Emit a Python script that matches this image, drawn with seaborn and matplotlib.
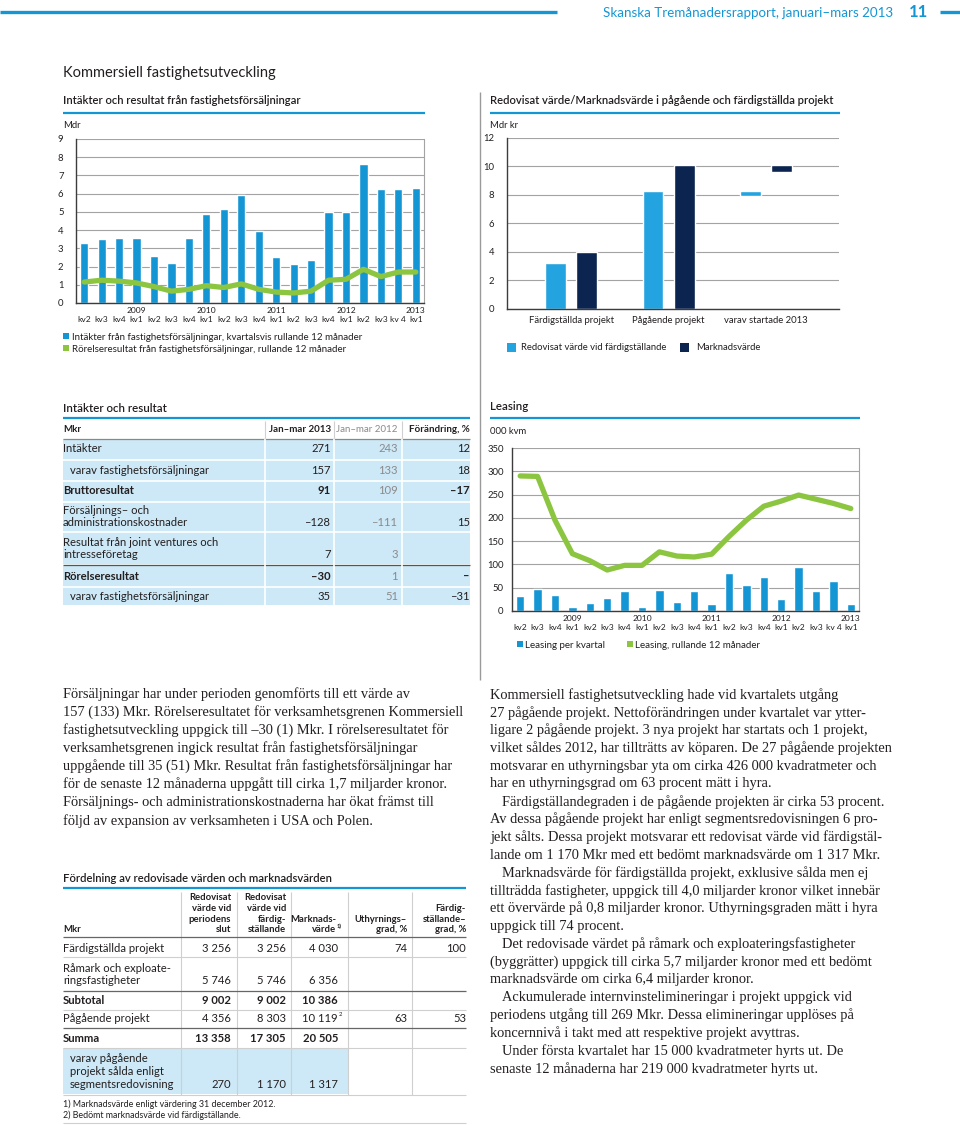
import numpy as np
import pandas as pd
import seaborn as sns
import matplotlib.pyplot as plt
from matplotlib.patches import Rectangle

################################################################################
# data

kvartal = ['kv2', 'kv3', 'kv4', 'kv1', 'kv2', 'kv3', 'kv4', 'kv1', 'kv2', 'kv3',
           'kv4', 'kv1', 'kv2', 'kv3', 'kv4', 'kv1', 'kv2', 'kv3', 'kv 4', 'kv1']
ar = ['', '', '', '2009', '', '', '', '2010', '', '', '', '2011', '', '', '', '2012', '', '', '', '2013']

# Intäkter och resultat från fastighetsförsäljningar, Mdr
intakter = [3.3, 3.5, 3.55, 3.55, 2.6, 2.2, 3.55, 4.9, 5.15, 5.9,
            3.95, 2.55, 2.15, 2.35, 5.0, 5.0, 7.65, 6.25, 6.25, 6.3]
rorelseresultat = [1.15, 1.25, 1.2, 1.1, 0.9, 0.65, 0.75, 0.95, 0.85, 1.05,
                   0.75, 0.6, 0.55, 0.65, 1.25, 1.3, 1.85, 1.45, 1.7, 1.7]

# Redovisat värde / Marknadsvärde, Mdr kr
projekt_kat = ['Färdigställda projekt', 'Pågående projekt', 'varav startade 2013']
redovisat = [3.256, 8.303]
marknadsvarde = [4.030, 10.119]
startade_redovisat = [7.95, 8.30]   # från, till
startade_marknad = [9.6, 10.1]

# Leasing, 000 kvm
leasing_kvartal = [33, 47, 34, 9, 18, 27, 44, 9, 46, 19,
                   42, 15, 81, 55, 73, 26, 95, 44, 65, 15]
leasing_rullande = [290, 289, 195, 123, 108, 88, 98, 98, 127, 118,
                    116, 122, 160, 195, 225, 236, 249, 240, 231, 220]

# Tabell: Intäkter och resultat
t1_rader = ['Intäkter', 'varav fastighetsförsäljningar', 'Bruttoresultat',
            'Försäljnings– och\nadministrationskostnader',
            'Resultat från joint ventures och\nintresseföretag',
            'Rörelseresultat', 'varav fastighetsförsäljningar']
t1_2013 = ['271', '157', '91', '–128', '7', '–30', '35']
t1_2012 = ['243', '133', '109', '–111', '3', '1', '51']
t1_forandring = ['12', '18', '–17', '15', '', '–', '–31']

# Tabell: Fördelning av redovisade värden och marknadsvärden
t2_rader = ['Färdigställda projekt', 'Råmark och exploate-\nringsfastigheter', 'Subtotal',
            'Pågående projekt', 'Summa', 'varav pågående\nprojekt sålda enligt\nsegmentsredovisning']
t2_redov_slut = ['3 256', '5 746', '9 002', '4 356', '13 358', '270']
t2_redov_fard = ['3 256', '5 746', '9 002', '8 303', '17 305', '1 170']
t2_marknad = ['4 030', '6 356', '10 386', '10 119', '20 505', '1 317']
t2_uthyrning = ['74', '', '', '63', '', '']
t2_fardig = ['100', '', '', '53', '', '']

text_vanster = [
    'Försäljningar har under perioden genomförts till ett värde av',
    '157 (133) Mkr. Rörelseresultatet för verksamhetsgrenen Kommersiell',
    'fastighetsutveckling uppgick till –30 (1) Mkr. I rörelseresultatet för',
    'verksamhetsgrenen ingick resultat från fastighetsförsäljningar',
    'uppgående till 35 (51) Mkr. Resultat från fastighetsförsäljningar har',
    'för de senaste 12 månaderna uppgått till cirka 1,7 miljarder kronor.',
    'Försäljnings- och administrationskostnaderna har ökat främst till',
    'följd av expansion av verksamheten i USA och Polen.',
]
text_hoger = [
    'Kommersiell fastighetsutveckling hade vid kvartalets utgång',
    '27 pågående projekt. Nettoförändringen under kvartalet var ytter-',
    'ligare 2 pågående projekt. 3 nya projekt har startats och 1 projekt,',
    'vilket såldes 2012, har tillträtts av köparen. De 27 pågående projekten',
    'motsvarar en uthyrningsbar yta om cirka 426 000 kvadratmeter och',
    'har en uthyrningsgrad om 63 procent mätt i hyra.',
    '>Färdigställandegraden i de pågående projekten är cirka 53 procent.',
    'Av dessa pågående projekt har enligt segmentsredovisningen 6 pro-',
    'jekt sålts. Dessa projekt motsvarar ett redovisat värde vid färdigstäl-',
    'lande om 1 170 Mkr med ett bedömt marknadsvärde om 1 317 Mkr.',
    '>Marknadsvärde för färdigställda projekt, exklusive sålda men ej',
    'tillträdda fastigheter, uppgick till 4,0 miljarder kronor vilket innebär',
    'ett övervärde på 0,8 miljarder kronor. Uthyrningsgraden mätt i hyra',
    'uppgick till 74 procent.',
    '>Det redovisade värdet på råmark och exploateringsfastigheter',
    '(byggrätter) uppgick till cirka 5,7 miljarder kronor med ett bedömt',
    'marknadsvärde om cirka 6,4 miljarder kronor.',
    '>Ackumulerade internvinstelimineringar i projekt uppgick vid',
    'periodens utgång till 269 Mkr. Dessa elimineringar upplöses på',
    'koncernnivå i takt med att respektive projekt avyttras.',
    '>Under första kvartalet har 15 000 kvadratmeter hyrts ut. De',
    'senaste 12 månaderna har 219 000 kvadratmeter hyrts ut.',
]

################################################################################
# style

W, H = 960, 1125
BLUE = '#1596d4'
LIGHTBLUE = '#23a3df'
NAVY = '#0b2450'
GREEN = '#8cc540'
TABLEBG = '#cde8f6'
GRID = '#a3a3a3'
TXT = '#231f20'
GRAYTXT = '#8a8a8a'
BODYSIZE = 10.4
TABSIZE = 8.1

sns.set_theme(style='white')
plt.rcParams['font.family'] = ['Lato', 'DejaVu Sans']
plt.rcParams['text.color'] = TXT
plt.rcParams['xtick.color'] = TXT
plt.rcParams['ytick.color'] = TXT

fig = plt.figure(figsize=(W/100, H/100), dpi=100)

# page axes in pixel coordinates, for all loose text and table graphics
page = fig.add_axes([0, 0, 1, 1])
page.set_xlim(0, W)
page.set_ylim(H, 0)
page.axis('off')


def px_axes(x0, y0, x1, y1):
    return fig.add_axes([x0/W, 1 - y1/H, (x1 - x0)/W, (y1 - y0)/H])


def t(x, y, s, size=7.5, ha='left', va='center', **kw):
    page.text(x, y, s, fontsize=size, ha=ha, va=va, **kw)


def hline(x0, x1, y, color, lw=0.8):
    page.plot([x0, x1], [y, y], color=color, lw=lw, solid_capstyle='butt')


def vline(x, y0, y1, color, lw=0.8):
    page.plot([x, x], [y0, y1], color=color, lw=lw, solid_capstyle='butt')


def style_axes(ax, right=True):
    ax.set_xlabel('')
    ax.set_ylabel('')
    ax.yaxis.grid(True, color=GRID, lw=0.8)
    ax.xaxis.grid(False)
    ax.set_axisbelow(True)
    ax.tick_params(length=0, pad=3, labelsize=6.8)
    for s in ['left', 'bottom']:
        ax.spines[s].set_color('#3c3c3c')
        ax.spines[s].set_linewidth(1.0)
    ax.spines['top'].set_visible(False)
    ax.spines['right'].set_visible(right)
    ax.spines['right'].set_color(GRID)
    ax.spines['right'].set_linewidth(0.8)
    ax.set_facecolor('none')


################################################################################
# header

hline(0, 557, 12, BLUE, lw=2.4)
t(893, 13, 'Skanska Tremånadersrapport, januari–mars 2013', size=9.6, ha='right', color=BLUE)
t(909, 12, '11', size=12, color=BLUE, weight='bold')
hline(940, 960, 12, BLUE, lw=2.4)

t(63, 73, 'Kommersiell fastighetsutveckling', size=10.5)
vline(480, 92, 680, '#9a9a9a', lw=1.0)

################################################################################
# chart 1: Intäkter och resultat från fastighetsförsäljningar

t(63, 101, 'Intäkter och resultat från fastighetsförsäljningar', size=8.1, weight='semibold')
hline(63, 425, 113, BLUE, lw=1.6)
t(63, 126, 'Mdr', size=6.8)

ax1 = px_axes(76, 139, 424, 303)
df1 = pd.DataFrame({'pos': range(len(kvartal)), 'intakter': intakter, 'rorelse': rorelseresultat})
sns.barplot(df1, x='pos', y='intakter', color=BLUE, saturation=1, width=0.47, ax=ax1)
sns.lineplot(df1, x='pos', y='rorelse', color=GREEN, lw=3.8, ax=ax1)
ax1.set_xlim(-0.47, len(kvartal) - 0.53)
ax1.set_ylim(0, 9)
ax1.set_yticks(range(10))
ax1.set_xticks(range(len(kvartal)))
ax1.set_xticklabels([f'{a}\n{k}' for a, k in zip(ar, kvartal)], linespacing=1.25)
style_axes(ax1)
ax1.tick_params(axis='y', pad=9)
ax1.tick_params(axis='x', labelsize=6.1)

page.add_patch(Rectangle((63, 333), 6, 6, color=BLUE, lw=0))
t(72, 337, 'Intäkter från fastighetsförsäljningar, kvartalsvis rullande 12 månader', size=7.0)
page.add_patch(Rectangle((63, 345), 6, 6, color=GREEN, lw=0))
t(72, 349, 'Rörelseresultat från fastighetsförsäljningar, rullande 12 månader', size=7.0)

################################################################################
# chart 2: Redovisat värde/Marknadsvärde

t(490, 101, 'Redovisat värde/Marknadsvärde i pågående och färdigställda projekt', size=8.1, weight='semibold')
hline(490, 840, 113, BLUE, lw=1.6)
t(490, 125, 'Mdr kr', size=6.8)

ax2 = px_axes(507, 138, 839, 309)
df2 = pd.DataFrame({
    'kategori': projekt_kat[:2] * 2,
    'serie': ['Redovisat värde vid färdigställande'] * 2 + ['Marknadsvärde'] * 2,
    'varde': redovisat + marknadsvarde,
})
sns.barplot(df2, x='kategori', y='varde', hue='serie', order=projekt_kat,
            palette=[LIGHTBLUE, NAVY], saturation=1, width=0.64, gap=0.33, legend=False, ax=ax2)
off = 0.64 / 4
bw = 0.32 * (1 - 0.33)
ax2.bar([2 - off, 2 + off],
        [startade_redovisat[1] - startade_redovisat[0], startade_marknad[1] - startade_marknad[0]],
        bottom=[startade_redovisat[0], startade_marknad[0]], width=bw, color=[LIGHTBLUE, NAVY])
ax2.set_xlim(-0.66, 2.75)
ax2.set_ylim(0, 12)
ax2.set_yticks(range(0, 13, 2))
style_axes(ax2, right=False)
ax2.tick_params(axis='y', pad=9)
ax2.tick_params(axis='x', pad=5)

page.add_patch(Rectangle((507, 343), 9, 9, color=LIGHTBLUE, lw=0))
t(521, 348, 'Redovisat värde vid färdigställande', size=6.8)
page.add_patch(Rectangle((680, 343), 9, 9, color=NAVY, lw=0))
t(696, 348, 'Marknadsvärde', size=6.8)

################################################################################
# chart 3: Leasing

t(490, 407, 'Leasing', size=8.3, weight='semibold')
hline(490, 860, 418, BLUE, lw=1.6)
t(490, 431, '000 kvm', size=6.8)

ax3 = px_axes(512, 448, 859, 611)
df3 = pd.DataFrame({'pos': range(len(kvartal)), 'kvartal': leasing_kvartal, 'rullande': leasing_rullande})
sns.barplot(df3, x='pos', y='kvartal', color=BLUE, saturation=1, width=0.48, ax=ax3)
sns.lineplot(df3, x='pos', y='rullande', color=GREEN, lw=3.8, ax=ax3)
ax3.set_xlim(-0.47, len(kvartal) - 0.53)
ax3.set_ylim(0, 350)
ax3.set_yticks(range(0, 351, 50))
ax3.set_xticks(range(len(kvartal)))
ax3.set_xticklabels([f'{a}\n{k}' for a, k in zip(ar, kvartal)], linespacing=1.25)
style_axes(ax3)
ax3.tick_params(axis='y', pad=6)
ax3.tick_params(axis='x', labelsize=6.1)

page.add_patch(Rectangle((517, 641), 6, 6, color=BLUE, lw=0))
t(525, 645, 'Leasing per kvartal', size=7.0)
page.add_patch(Rectangle((627, 641), 6, 6, color=GREEN, lw=0))
t(635, 645, 'Leasing, rullande 12 månader', size=7.0)

################################################################################
# table 1: Intäkter och resultat

t(63, 408, 'Intäkter och resultat', size=8.3, weight='semibold')
hline(63, 470, 418, BLUE, lw=1.6)
t(63, 430, 'Mkr', size=7, weight='bold')
t(331, 430, 'Jan–mar 2013', size=7, weight='bold', ha='right')
t(398, 430, 'Jan–mar 2012', size=7, ha='right', color=GRAYTXT)
t(470, 430, 'Förändring, %', size=7, weight='bold', ha='right')
for x in [265, 334, 402]:
    vline(x, 421, 438, '#d0d0d0')
hline(63, 470, 438.5, '#888888', lw=0.9)

page.add_patch(Rectangle((63, 439), 407, 166, color=TABLEBG, lw=0))
row_bounds = [439, 460, 481, 502, 532, 565, 587, 605]
for y in row_bounds[1:-1]:
    hline(63, 470, y, 'white', lw=1.2)
hline(63, 470, 565, '#555555', lw=0.9)
for x in [265, 334, 402]:
    vline(x, 439, 605, 'white', lw=1.2)

t1_y = [449, 470, 491, 523, 555, 576, 597]
t1_bold = [False, False, True, False, False, True, False]
t1_indent = [0, 7, 0, 0, 0, 0, 7]
for i, rad in enumerate(t1_rader):
    lines = rad.split('\n')
    w = 'bold' if t1_bold[i] else 'normal'
    for j, ln in enumerate(lines):
        t(63 + t1_indent[i], t1_y[i] - (len(lines) - 1 - j) * 12, ln, size=TABSIZE, weight=w)
    t(331, t1_y[i], t1_2013[i], size=TABSIZE, ha='right', weight=w)
    t(398, t1_y[i], t1_2012[i], size=TABSIZE, ha='right', color=GRAYTXT)
    t(470, t1_y[i], t1_forandring[i], size=TABSIZE, ha='right', weight=w)

################################################################################
# table 2: Fördelning av redovisade värden och marknadsvärden

t(63, 878, 'Fördelning av redovisade värden och marknadsvärden', size=8.1, weight='semibold')
hline(63, 466, 888, BLUE, lw=1.6)

col_x = [231, 286, 338, 407, 466]
headers = ['Redovisat\nvärde vid\nperiodens\nslut', 'Redovisat\nvärde vid\nfärdig-\nställande',
           'Marknads-\nvärde', 'Uthyrnings–\ngrad, %', 'Färdig-\nställande–\ngrad, %']
head_right = [231, 286, 336, 407, 466]
for x, h in zip(head_right, headers):
    lines = h.split('\n')
    for j, ln in enumerate(lines):
        t(x, 930 - (len(lines) - 1 - j) * 10.8, ln, size=6.8, weight='bold', ha='right')
t(337, 926, '1)', size=4.2, weight='bold')
t(63, 930, 'Mkr', size=6.8, weight='bold')

page.add_patch(Rectangle((63, 1048), 285, 46, color=TABLEBG, lw=0))
for x in [181, 237, 291, 348, 412]:
    vline(x, 892, 1095, '#cfcfcf')
hline(63, 466, 937, '#666666', lw=0.9)
for y in [957, 1010, 1048, 1095]:
    hline(63, 466, y, '#cfcfcf')
for y in [991, 1028]:
    hline(63, 466, y, '#666666', lw=0.9)
hline(63, 466, 1123, '#cfcfcf')

t2_y = [948, 981, 1000, 1019, 1038, 1084]
t2_bold = [False, False, True, False, True, False]
t2_indent = [0, 0, 0, 0, 0, 7]
for i, rad in enumerate(t2_rader):
    lines = rad.split('\n')
    w = 'bold' if t2_bold[i] else 'normal'
    for j, ln in enumerate(lines):
        t(63 + t2_indent[i], t2_y[i] - (len(lines) - 1 - j) * 12.5, ln, size=TABSIZE, weight=w)
    vals = [t2_redov_slut[i], t2_redov_fard[i], t2_marknad[i], t2_uthyrning[i], t2_fardig[i]]
    for x, v in zip(col_x, vals):
        t(x, t2_y[i], v, size=TABSIZE, ha='right', weight=w)
t(339, 1015, '2', size=4.2)

t(63, 1104, '1) Marknadsvärde enligt värdering 31 december 2012.', size=6.4)
t(63, 1115, '2) Bedömt marknadsvärde vid färdigställande.', size=6.4)

################################################################################
# body text

for i, ln in enumerate(text_vanster):
    page.text(63, 694 + i * 18.1, ln, fontsize=BODYSIZE, family='Liberation Serif', va='center')
for i, ln in enumerate(text_hoger):
    x = 490
    if ln.startswith('>'):
        ln = ln[1:]
        x = 502
    page.text(x, 695 + i * 17.8, ln, fontsize=BODYSIZE, family='Liberation Serif', va='center')

fig.savefig('out.png', dpi=100)
